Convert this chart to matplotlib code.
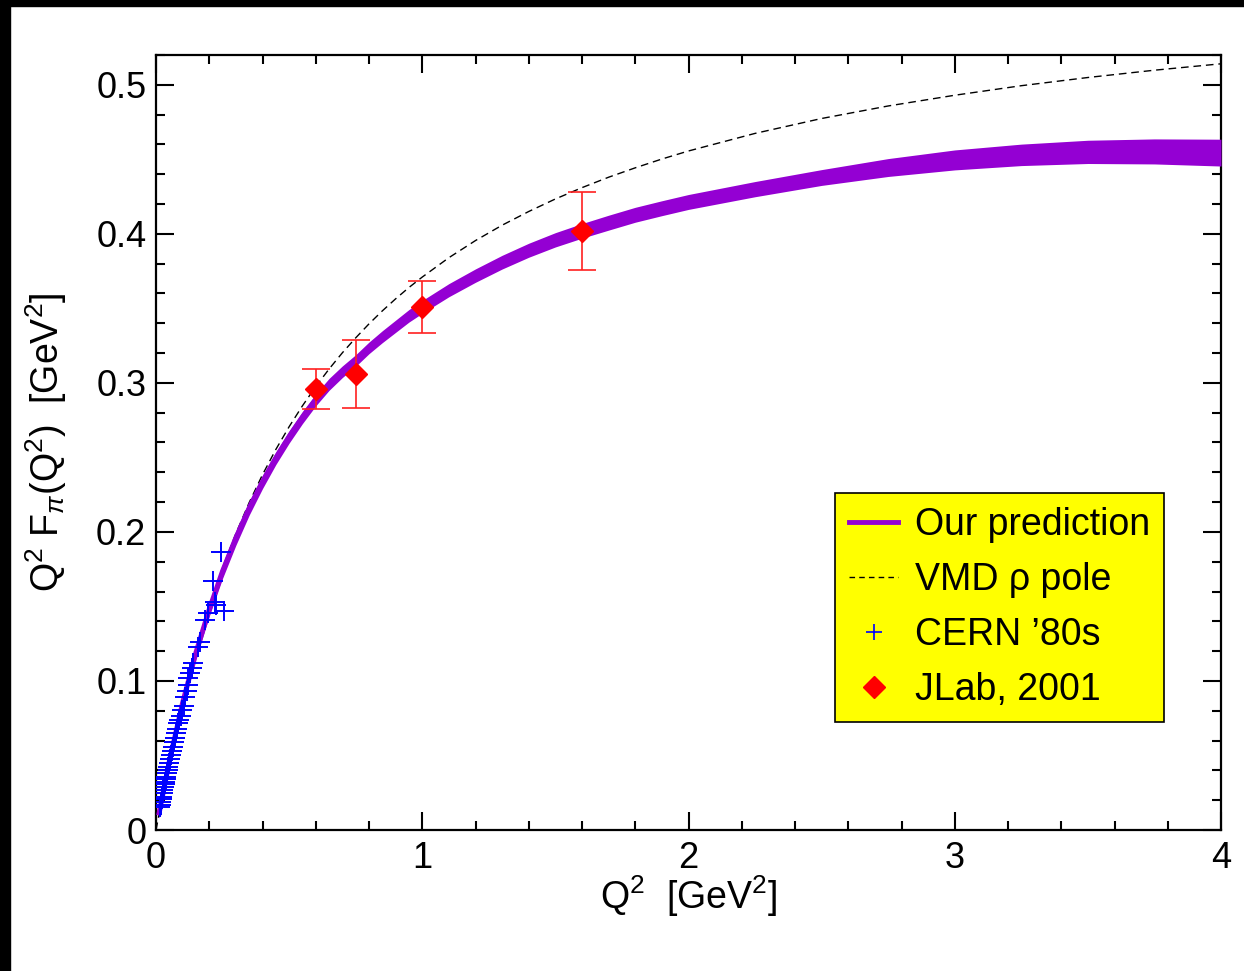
import numpy as np
import matplotlib
matplotlib.use("Agg")
import matplotlib.pyplot as plt
from matplotlib.lines import Line2D
from matplotlib.patches import Rectangle
from matplotlib.ticker import MultipleLocator, FixedLocator, FixedFormatter

plt.rcParams['font.family'] = ['Liberation Sans', 'DejaVu Sans']
plt.rcParams['mathtext.fontset'] = 'custom'
plt.rcParams['mathtext.rm'] = 'Liberation Sans'
plt.rcParams['mathtext.it'] = 'Liberation Sans:italic'

# VMD rho pole curve, Q^2 F_pi
q_vmd = [0.0, 0.05, 0.1, 0.15, 0.2, 0.25, 0.3, 0.35, 0.4, 0.45, 0.5, 0.55, 0.6, 0.65,
         0.7, 0.75, 0.8, 0.85, 0.9, 0.95, 1.0, 1.1, 1.2, 1.3, 1.4, 1.5, 1.6, 1.7, 1.8,
         1.9, 2.0, 2.25, 2.5, 2.75, 3.0, 3.25, 3.5, 3.75, 4.0]
f_vmd = [0.0, 0.0461, 0.0855, 0.1196, 0.1494, 0.1756, 0.1989, 0.2197, 0.2384, 0.2553,
         0.2706, 0.2846, 0.2975, 0.3093, 0.3202, 0.3302, 0.3396, 0.3483, 0.3564, 0.3640,
         0.3710, 0.3840, 0.3955, 0.4058, 0.4150, 0.4234, 0.4310, 0.4380, 0.4443, 0.4502,
         0.4556, 0.4674, 0.4774, 0.4858, 0.4930, 0.4994, 0.5049, 0.5098, 0.5141]

# our prediction: central value and half width of the band
q_pred = [0.01, 0.05, 0.1, 0.15, 0.2, 0.25, 0.3, 0.35, 0.4, 0.45, 0.5, 0.55, 0.6, 0.65,
          0.7, 0.75, 0.8, 0.85, 0.9, 0.95, 1.0, 1.1, 1.2, 1.3, 1.4, 1.5, 1.6, 1.7, 1.8,
          1.9, 2.0, 2.25, 2.5, 2.75, 3.0, 3.25, 3.5, 3.75, 4.0]
f_pred = [0.0098, 0.046, 0.0853, 0.119, 0.148, 0.1737, 0.196, 0.216, 0.2336, 0.2495,
          0.2638, 0.2768, 0.2886, 0.299, 0.3075, 0.315, 0.3235, 0.331, 0.338, 0.345,
          0.351, 0.3622, 0.372, 0.381, 0.389, 0.396, 0.402, 0.4075, 0.4128, 0.4172,
          0.4214, 0.430, 0.4378, 0.4445, 0.4496, 0.453, 0.455, 0.4553, 0.4545]
hw_pred = [0.002, 0.003, 0.0035, 0.004, 0.0045, 0.0048, 0.0049, 0.0047, 0.0045, 0.0043,
           0.0042, 0.0041, 0.0040, 0.0040, 0.0039, 0.0039, 0.0039, 0.0040, 0.0041, 0.0042,
           0.0043, 0.0044, 0.0045, 0.0046, 0.0047, 0.0048, 0.0049, 0.0050, 0.0050,
           0.0050, 0.0050, 0.0051, 0.0053, 0.0060, 0.0067, 0.0072, 0.0078, 0.0084, 0.0090]

# CERN '80s data
q_cern = [0.0155, 0.0174, 0.0193, 0.0213, 0.0232, 0.0252, 0.0274, 0.0296, 0.0321, 0.0342,
          0.0362, 0.0384, 0.0406, 0.0432, 0.0462, 0.0493, 0.0526, 0.0560, 0.0594, 0.0633,
          0.0672, 0.0711, 0.0751, 0.0792, 0.0837, 0.0882, 0.0935, 0.0985, 0.1040, 0.1100,
          0.1165, 0.119, 0.1215, 0.128, 0.134, 0.140, 0.159, 0.165, 0.184, 0.1965,
          0.215, 0.2216, 0.226, 0.244, 0.2554]
f_cern = [0.0152, 0.017, 0.0188, 0.0206, 0.0224, 0.0246, 0.0268, 0.029, 0.0307, 0.0324,
          0.034, 0.0358, 0.038, 0.0403, 0.0425, 0.0452, 0.0477, 0.0503, 0.053, 0.0559,
          0.0593, 0.062, 0.0649, 0.0678, 0.0716, 0.0738, 0.0765, 0.0805, 0.0832, 0.0895,
          0.0933, 0.0973, 0.1018, 0.1055, 0.1087, 0.1119, 0.123, 0.1264, 0.141, 0.1454,
          0.1673, 0.1532, 0.151, 0.1868, 0.147]

# JLab 2001 data
q_jlab = [0.6, 0.75, 1.0, 1.6]
f_jlab = [0.296, 0.306, 0.351, 0.402]
e_jlab = [0.0135, 0.023, 0.0175, 0.026]

purple = '#9400d3'

fig = plt.figure(figsize=(12.44, 9.71), dpi=100)
ax = fig.add_axes([156 / 1244, 141 / 971, 1065 / 1244, 775 / 971])

ax.plot(q_vmd, f_vmd, color='black', lw=1.0, ls=(0, (5.5, 3.5)), zorder=2)

fp = np.array(f_pred)
hw = np.array(hw_pred)
ax.fill_between(q_pred, fp - hw, fp + hw, color=purple, lw=0, zorder=3)
ax.plot(q_pred, f_pred, color=purple, lw=3.6, solid_capstyle='butt',
        solid_joinstyle='round', zorder=3)

ax.plot(q_cern, f_cern, ls='none', marker='+', ms=14, mew=1.4, color='#0000ff', zorder=4)

ax.errorbar(q_jlab, f_jlab, yerr=e_jlab, fmt='D', ms=11, color='#ff0000',
            ecolor='#ff2020', elinewidth=1.2, capsize=10, capthick=1.2, zorder=5)

ax.set_xlim(0, 4)
ax.set_ylim(0, 0.52)

ax.xaxis.set_major_locator(FixedLocator([0, 1, 2, 3, 4]))
ax.xaxis.set_major_formatter(FixedFormatter(['0', '1', '2', '3', '4']))
ax.xaxis.set_minor_locator(MultipleLocator(0.2))
ax.yaxis.set_major_locator(FixedLocator([0, 0.1, 0.2, 0.3, 0.4, 0.5]))
ax.yaxis.set_major_formatter(FixedFormatter(['0', '0.1', '0.2', '0.3', '0.4', '0.5']))
ax.yaxis.set_minor_locator(MultipleLocator(0.02))

ax.tick_params(which='both', direction='in', top=True, right=True, width=1.5,
               labelsize=26)
ax.tick_params(which='major', length=13)
ax.tick_params(which='minor', length=6.5)
ax.tick_params(axis='x', pad=8)
ax.tick_params(axis='y', pad=7)
for s in ax.spines.values():
    s.set_linewidth(1.6)

ax.set_xlabel(r'Q$^{2}$  [GeV$^{2}$]', fontsize=27)
ax.set_ylabel(r'Q$^{2}$ F$_{\pi}$(Q$^{2}$)  [GeV$^{2}$]', fontsize=27)
ax.xaxis.set_label_coords(0.5, -0.056)
ax.yaxis.set_label_coords(-0.082, 0.5)
ax.xaxis.label.set_va('top')

handles = [
    Line2D([], [], color=purple, lw=3.5),
    Line2D([], [], color='black', lw=1.0, ls=(0, (4, 3))),
    Line2D([], [], ls='none', marker='+', ms=11, mew=1.2, color='#0000ff'),
    Line2D([], [], ls='none', marker='D', ms=11, color='#ff0000'),
]
labels = ['Our prediction', u'VMD \u03c1 pole', u'CERN \u201980s', 'JLab, 2001']
leg = ax.legend(handles, labels, loc='lower left', bbox_to_anchor=(0.6376, 0.1394),
                borderaxespad=0, fontsize=27, handlelength=1.3, handletextpad=0.45,
                labelspacing=0.5, borderpad=0.38, fancybox=False, framealpha=1,
                facecolor='#ffff00', edgecolor='black')
leg.get_frame().set_linewidth(1.2)

# dark strips along the top and left edges
fig.patches.append(Rectangle((0, 1 - 6 / 971), 1, 6 / 971, transform=fig.transFigure,
                             color='black', zorder=10))
fig.patches.append(Rectangle((0, 0), 10 / 1244, 1, transform=fig.transFigure,
                             color='black', zorder=10))

fig.savefig('out.png', dpi=100)
